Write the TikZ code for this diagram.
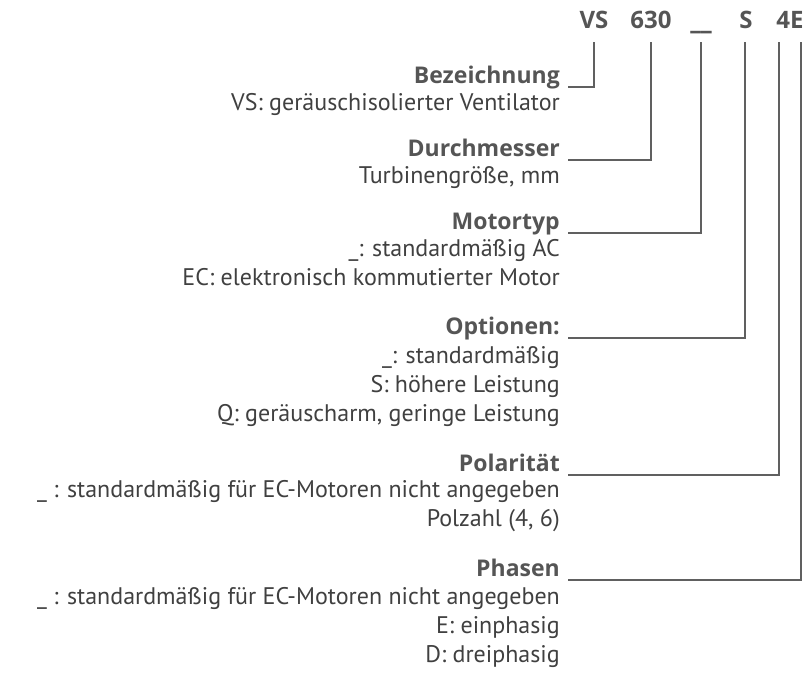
\documentclass[tikz,border=0pt]{standalone}
\usepackage{fontspec}
\setmainfont{PT Sans}
\newfontfamily\vshead{Open Sans}
\usetikzlibrary{positioning}
\definecolor{VSgrey}{HTML}{555555}
\definecolor{VStext}{HTML}{404040}
\definecolor{VSline}{HTML}{606060}

\begin{document}
\begin{tikzpicture}[x=1pt,y=-1pt,
    code/.style={font=\vshead\bfseries\fontsize{24}{26}\selectfont,
                 text=VSgrey,anchor=base,text depth=0pt,inner xsep=0pt,inner ysep=14pt},
    head/.style={font=\vshead\bfseries\fontsize{23}{26}\selectfont,
                 text=VSgrey,anchor=base east,inner sep=0pt},
    desc/.style={font=\fontsize{24}{28.8}\selectfont,text=VStext,
                 anchor=base east,align=right,inner sep=0pt},
    lead/.style={draw=VSline,line width=1.1pt}]
  \useasboundingbox (0,0) rectangle (806,673);
  % type code
  \node[code] (vs)  at (594,28) {VS};
  \node[code] (dia) at (651,28) {630};
  \node[code,font=\bfseries\fontsize{24}{26}\selectfont] (mot) at (701,28) {\_\_};
  \node[code] (opt) at (746,28) {S};
  \node[code] (pol) at (790,28) {4E};
  % headings
  \node[head] (bez)  at (560,83)  {Bezeichnung};
  \node[head] (dm)   at (560,156) {Durchmesser};
  \node[head] (mt)   at (560,229) {Motortyp};
  \node[head] (op)   at (560,334) {Optionen:};
  \node[head] (pl)   at (560,471) {Polarität};
  \node[head] (ph)   at (560,576) {Phasen};
  % descriptions (anchored at the last line)
  \node[desc] (bez-d) at (560,110) {VS: geräuschisolierter Ventilator};
  \node[desc] (dm-d)  at (560,183) {Turbinengröße, mm};
  \node[desc] (mt-d)  at (560,285) {\_: standardmäßig AC\\
    EC: elektronisch kommutierter Motor};
  \node[desc] (op-d)  at (560,421) {\_: standardmäßig\\
    S: höhere Leistung\\
    Q: geräuscharm, geringe Leistung};
  \node[desc] (pl-d)  at (560,526) {\_ : standardmäßig für EC-Motoren nicht angegeben\\
    Polzahl (4, 6)};
  \node[desc] (ph-d)  at (560,662) {\_ : standardmäßig für EC-Motoren nicht angegeben\\
    E: einphasig\\
    D: dreiphasig};
  % leaders
  \draw[lead] (vs.south)  |- ([xshift=8pt,yshift=-4pt]bez.base east);
  \draw[lead] (dia.south) |- ([xshift=8pt,yshift=-4pt]dm.base east);
  \draw[lead] (mot.south) |- ([xshift=8pt,yshift=-4pt]mt.base east);
  \draw[lead] ([xshift=-1pt]opt.south) |- ([xshift=8pt,yshift=-4pt]op.base east);
  \draw[lead] ([xshift=-11pt]pol.south) |- ([xshift=8pt,yshift=-4pt]pl.base east);
  \draw[lead] ([xshift=11pt]pol.south) |- ([xshift=8pt,yshift=-4pt]ph.base east);
\end{tikzpicture}
\end{document}
